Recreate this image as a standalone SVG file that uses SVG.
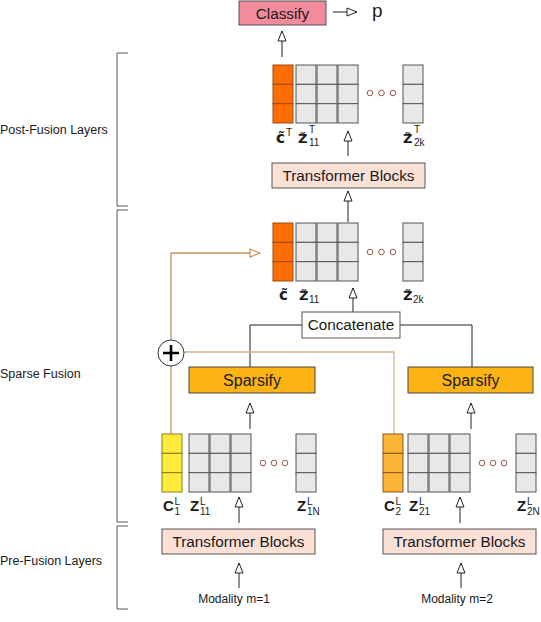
<svg xmlns="http://www.w3.org/2000/svg" xmlns:xlink="http://www.w3.org/1999/xlink" width="541" height="622" viewBox="0 0 541 622">
<style>
text{font-family:"Liberation Sans",Arial,sans-serif;fill:#1a1a1a}
.bx{font-size:15.3px;text-anchor:middle}
.side{font-size:12.5px}
.mod{font-size:12px;text-anchor:middle}
.v{font-family:"DejaVu Sans","Liberation Sans",sans-serif;font-size:13px;font-weight:bold}
.vc{font-family:"DejaVu Sans","Liberation Sans",sans-serif;font-size:15px;font-weight:bold}
.vb{font-size:15px;font-weight:bold}
.s{font-family:"Liberation Sans",Arial,sans-serif;font-size:10px;font-weight:normal}
.ln{fill:none;stroke:#222;stroke-width:1}
.br{fill:none;stroke:#c4925f;stroke-width:1.3}
.brk{fill:none;stroke:#555;stroke-width:1}
.dot{fill:#fff;stroke:#9a5a4a;stroke-width:1}
</style>
<defs>
<marker id="ah" markerUnits="userSpaceOnUse" markerWidth="14" markerHeight="12" refX="12" refY="6" orient="auto">
<path d="M2,2 L12,6 L2,10 z" fill="#fff" stroke="#222" stroke-width="1"/>
</marker>
<marker id="ahb" markerUnits="userSpaceOnUse" markerWidth="14" markerHeight="12" refX="12" refY="6" orient="auto">
<path d="M2,2 L12,6 L2,10 z" fill="#fff" stroke="#c4925f" stroke-width="1.2"/>
</marker>
<g id="col">
<rect x="0" y="0" width="20" height="19.33"/>
<rect x="0" y="19.33" width="20" height="19.33"/>
<rect x="0" y="38.67" width="20" height="19.33"/>
</g>
</defs>

<!-- side brackets -->
<g id="brackets">
<path class="brk" d="M128,53 H117 V206 H128"/>
<path class="brk" d="M128,210 H117 V522 H128"/>
<path class="brk" d="M128,526 H117 V609 H128"/>
<text class="side" x="0" y="134">Post-Fusion Layers</text>
<text class="side" x="0" y="378">Sparse Fusion</text>
<text class="side" x="0" y="565">Pre-Fusion Layers</text>
</g>

<!-- connectors -->
<g id="connectors">
<line class="ln" x1="333" y1="12" x2="357" y2="12" marker-end="url(#ah)"/>
<line class="ln" x1="282" y1="57" x2="282" y2="31" marker-end="url(#ah)"/>
<line class="ln" x1="348" y1="156" x2="348" y2="131" marker-end="url(#ah)"/>
<line class="ln" x1="348" y1="222" x2="348" y2="191" marker-end="url(#ah)"/>
<line class="ln" x1="353" y1="312" x2="353" y2="288" marker-end="url(#ah)"/>
<path class="ln" d="M302,325 H250 V367"/>
<path class="ln" d="M400,325 H472 V367"/>
<line class="ln" x1="250" y1="429" x2="250" y2="403" marker-end="url(#ah)"/>
<line class="ln" x1="471" y1="429" x2="471" y2="403" marker-end="url(#ah)"/>
<line class="ln" x1="239" y1="523" x2="239" y2="497" marker-end="url(#ah)"/>
<line class="ln" x1="460" y1="523" x2="460" y2="497" marker-end="url(#ah)"/>
<line class="ln" x1="239" y1="588" x2="239" y2="563" marker-end="url(#ah)"/>
<line class="ln" x1="461" y1="588" x2="461" y2="563" marker-end="url(#ah)"/>
<path class="br" d="M171,434 V366"/>
<path class="br" d="M171,340 V253 H260" marker-end="url(#ahb)"/>
<path class="br" d="M184,352 H394 V434" style="stroke:#d4b38e"/>
</g>

<!-- classify -->
<g id="classify">
<rect x="239" y="1" width="87" height="24" fill="#f28b9c" stroke="#555" stroke-width="1"/>
<text class="bx" x="282.5" y="18.5">Classify</text>
</g>
<g id="output-p">
<text x="372" y="17" style="font-size:19px">p</text>
</g>

<!-- top matrix -->
<g id="matrix-post">
<use xlink:href="#col" x="273" y="65" fill="#ff6d01" stroke="#9a4a14"/>
<use xlink:href="#col" x="296" y="65" fill="#e8e8e8" stroke="#555"/>
<use xlink:href="#col" x="317" y="65" fill="#e8e8e8" stroke="#555"/>
<use xlink:href="#col" x="338" y="65" fill="#e8e8e8" stroke="#555"/>
<use xlink:href="#col" x="403" y="65" fill="#e8e8e8" stroke="#555"/>
<circle class="dot" cx="370" cy="93" r="2.8"/>
<circle class="dot" cx="381.5" cy="93" r="2.8"/>
<circle class="dot" cx="393" cy="93" r="2.8"/>
<text><tspan class="vc" x="276" y="143">c&#x303;</tspan><tspan class="s" x="286" y="136">T</tspan></text>
<text><tspan class="v" x="298" y="143">Z&#x303;</tspan><tspan class="s" x="309" y="133">T</tspan><tspan class="s" x="309" y="146">11</tspan></text>
<text><tspan class="v" x="403" y="143">Z&#x303;</tspan><tspan class="s" x="414" y="133">T</tspan><tspan class="s" x="414" y="146">2k</tspan></text>
</g>

<!-- post transformer -->
<g id="transformer-post">
<rect x="272" y="163" width="153" height="25" fill="#fbe0d6" stroke="#555" stroke-width="1"/>
<text class="bx" x="348.5" y="181">Transformer Blocks</text>
</g>

<!-- middle matrix -->
<g id="matrix-fused">
<use xlink:href="#col" x="273" y="223" fill="#ff6d01" stroke="#9a4a14"/>
<use xlink:href="#col" x="296" y="223" fill="#e8e8e8" stroke="#555"/>
<use xlink:href="#col" x="317" y="223" fill="#e8e8e8" stroke="#555"/>
<use xlink:href="#col" x="338" y="223" fill="#e8e8e8" stroke="#555"/>
<use xlink:href="#col" x="403" y="223" fill="#e8e8e8" stroke="#555"/>
<circle class="dot" cx="370" cy="252" r="2.8"/>
<circle class="dot" cx="381.5" cy="252" r="2.8"/>
<circle class="dot" cx="393" cy="252" r="2.8"/>
<text><tspan class="vc" x="279" y="300">c&#x303;</tspan></text>
<text><tspan class="v" x="299" y="300">Z&#x303;</tspan><tspan class="s" x="309" y="303">11</tspan></text>
<text><tspan class="v" x="403" y="300">Z&#x303;</tspan><tspan class="s" x="413" y="303">2k</tspan></text>
</g>

<!-- concatenate -->
<g id="concatenate">
<rect x="302" y="312" width="98" height="26" fill="#fff" stroke="#555" stroke-width="1"/>
<text class="bx" x="351" y="330">Concatenate</text>
</g>

<!-- plus -->
<g id="add">
<circle cx="171" cy="353" r="13" fill="#fff" stroke="#333" stroke-width="1"/>
<path d="M163,353 H179 M171,345 V361" stroke="#000" stroke-width="2.6" fill="none"/>
</g>

<!-- sparsify -->
<g id="sparsify-1">
<rect x="189" y="367" width="126" height="26" fill="#fbb414" stroke="#444" stroke-width="1"/>
<text class="bx" x="252" y="386" style="font-size:16px">Sparsify</text>
</g>
<g id="sparsify-2">
<rect x="408" y="367" width="125" height="26" fill="#fbb414" stroke="#444" stroke-width="1"/>
<text class="bx" x="470.5" y="386" style="font-size:16px">Sparsify</text>
</g>

<!-- bottom matrices -->
<g id="matrix-m1">
<use xlink:href="#col" x="162" y="434" fill="#ffeb3b" stroke="#8a7a1a"/>
<use xlink:href="#col" x="189" y="434" fill="#e8e8e8" stroke="#555"/>
<use xlink:href="#col" x="210" y="434" fill="#e8e8e8" stroke="#555"/>
<use xlink:href="#col" x="231" y="434" fill="#e8e8e8" stroke="#555"/>
<use xlink:href="#col" x="296" y="434" fill="#e8e8e8" stroke="#555"/>
<circle class="dot" cx="263" cy="463" r="2.8"/>
<circle class="dot" cx="274" cy="463" r="2.8"/>
<circle class="dot" cx="285" cy="463" r="2.8"/>
<text><tspan class="vb" x="163" y="511">C</tspan><tspan class="s" x="174.5" y="505">L</tspan><tspan class="s" x="174.5" y="515">1</tspan></text>
<text><tspan class="vb" x="190" y="511">Z</tspan><tspan class="s" x="200" y="505">L</tspan><tspan class="s" x="200" y="515">11</tspan></text>
<text><tspan class="vb" x="297" y="511">Z</tspan><tspan class="s" x="307" y="505">L</tspan><tspan class="s" x="307" y="515">1N</tspan></text>
</g>
<g id="matrix-m2">
<use xlink:href="#col" x="383" y="434" fill="#fbb434" stroke="#8a5a1a"/>
<use xlink:href="#col" x="408" y="434" fill="#e8e8e8" stroke="#555"/>
<use xlink:href="#col" x="429" y="434" fill="#e8e8e8" stroke="#555"/>
<use xlink:href="#col" x="450" y="434" fill="#e8e8e8" stroke="#555"/>
<use xlink:href="#col" x="516" y="434" fill="#e8e8e8" stroke="#555"/>
<circle class="dot" cx="482" cy="463" r="2.8"/>
<circle class="dot" cx="493" cy="463" r="2.8"/>
<circle class="dot" cx="504" cy="463" r="2.8"/>
<text><tspan class="vb" x="384" y="511">C</tspan><tspan class="s" x="395.5" y="505">L</tspan><tspan class="s" x="395.5" y="515">2</tspan></text>
<text><tspan class="vb" x="409" y="511">Z</tspan><tspan class="s" x="419" y="505">L</tspan><tspan class="s" x="419" y="515">21</tspan></text>
<text><tspan class="vb" x="517" y="511">Z</tspan><tspan class="s" x="527" y="505">L</tspan><tspan class="s" x="527" y="515">2N</tspan></text>
</g>

<!-- pre-fusion transformers -->
<g id="transformer-m1">
<rect x="162" y="529" width="153" height="25" fill="#fbe0d6" stroke="#555" stroke-width="1"/>
<text class="bx" x="238.5" y="547">Transformer Blocks</text>
</g>
<g id="transformer-m2">
<rect x="383" y="529" width="153" height="25" fill="#fbe0d6" stroke="#555" stroke-width="1"/>
<text class="bx" x="459.5" y="547">Transformer Blocks</text>
</g>

<g id="modality-1"><text class="mod" x="234" y="603">Modality m=1</text></g>
<g id="modality-2"><text class="mod" x="457" y="603">Modality m=2</text></g>
</svg>
